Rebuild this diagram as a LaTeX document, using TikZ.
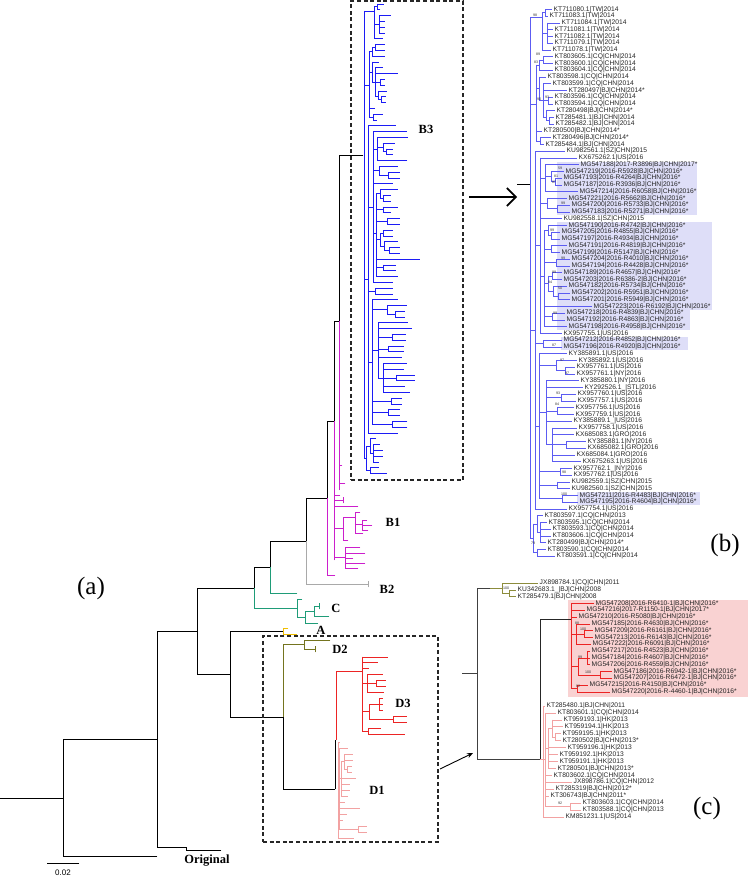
\documentclass[tikz,border=0pt]{standalone}
\usepackage{fontspec}
\setmainfont{Liberation Serif}
\newfontfamily\taxfont{Liberation Sans}
\usetikzlibrary{arrows.meta}

\definecolor{cladeB3}{HTML}{1C1CF5}
\definecolor{panelblue}{HTML}{5C5CF2}
\definecolor{lavender}{HTML}{DEDEF8}
\definecolor{cladeB1}{HTML}{CC1FCC}
\definecolor{cladeB2}{HTML}{A9A9A9}
\definecolor{cladeC}{HTML}{1F9C78}
\definecolor{cladeA}{HTML}{F0BE00}
\definecolor{cladeD2}{HTML}{74741F}
\definecolor{oliveC}{HTML}{8C8C3C}
\definecolor{cladeD3}{HTML}{EC2424}
\definecolor{cladeD1}{HTML}{F2A2A2}
\definecolor{rosebox}{HTML}{F9D2D2}

% row -> y in the zoomed panels
\newcommand{\yB}[1]{9.3+6.75*(#1)}
\newcommand{\yC}[1]{583+6.8*(#1)}
\newcommand{\yP}[1]{706+6.93*(#1)}

\tikzset{
  branch/.style={line width=0.9pt, line cap=rect},
  twig/.style={line width=0.6pt, line cap=rect},
  taxon/.style={anchor=west, inner sep=0.5pt, text=black!85,
    font=\taxfont\fontsize{6.7}{6.7}\selectfont},
  boot/.style={inner sep=0pt, text=black!80, font=\taxfont\fontsize{3.6}{3.6}\selectfont},
  clade/.style={inner sep=0pt, font=\bfseries\fontsize{12.5}{12.5}\selectfont},
  panel/.style={inner sep=0pt, font=\fontsize{25}{25}\selectfont},
  dashbox/.style={draw=black!85, line width=1.1pt, dash pattern=on 4pt off 2.6pt, inner sep=0pt},
  zoomarr/.style={-{Straight Barb[length=9pt,width=18pt]}, line width=1.6pt},
  thinarr/.style={-{Stealth[length=6pt,width=5pt]}, line width=0.9pt}
}

% panel (b): row/parent x/label x/taxon
\def\bleaves{%
0/545/553/KT711080.1|TW|2014,%
1/545/549/KT711083.1|TW|2014,%
2/547/561/KT711084.1|TW|2014,%
3/547/554/KT711081.1|TW|2014,%
4/547/554/KT711082.1|TW|2014,%
5/547/554/KT711079.1|TW|2014,%
6/542/552/KT711078.1|TW|2014,%
7/543/554/KT803605.1|CQ|CHN|2014,%
8/543/554/KT803600.1|CQ|CHN|2014,%
9/539/554/KT803604.1|CQ|CHN|2014,%
10/539/547/KT803598.1|CQ|CHN|2014,%
11/543/552/KT803599.1|CQ|CHN|2014,%
12/543/568/KT280497|BJ|CHN|2014*,%
13/548/554/KT803596.1|CQ|CHN|2014,%
14/548/554/KT803594.1|CQ|CHN|2014,%
15/546/556/KT280498|BJ|CHN|2014*,%
16/549/555/KT285481.1|BJ|CHN|2014,%
17/549/555/KT285482.1|BJ|CHN|2014,%
18/536/543/KT280500|BJ|CHN|2014*,%
19/540/552/KT280496|BJ|CHN|2014*,%
20/540/545/KT285484.1|BJ|CHN|2014,%
21/535/566/KU982561.1|SZ|CHN|2015,%
22/540/578/KX675262.1|US|2016,%
23/545/580/MG547188|2017-R3896|BJ|CHN|2017*,%
24/551/565/MG547219|2016-R5928|BJ|CHN|2016*,%
25/555/563/MG547193|2016-R4264|BJ|CHN|2016*,%
26/555/563/MG547187|2016-R3936|BJ|CHN|2016*,%
27/545/579/MG547214|2016-R6058|BJ|CHN|2016*,%
28/547/568/MG547221|2016-R5662|BJ|CHN|2016*,%
29/557/571/MG547200|2016-R5733|BJ|CHN|2016*,%
30/557/571/MG547183|2016-R5271|BJ|CHN|2016*,%
31/540/563/KU982558.1|SZ|CHN|2015,%
32/548/568/MG547190|2016-R4742|BJ|CHN|2016*,%
33/551/561/MG547205|2016-R4855|BJ|CHN|2016*,%
34/551/561/MG547197|2016-R4934|BJ|CHN|2016*,%
35/551/568/MG547191|2016-R4819|BJ|CHN|2016*,%
36/551/561/MG547199|2016-R5147|BJ|CHN|2016*,%
37/556/571/MG547204|2016-R4010|BJ|CHN|2016*,%
38/556/571/MG547194|2016-R4428|BJ|CHN|2016*,%
39/552/563/MG547189|2016-R4657|BJ|CHN|2016*,%
40/552/563/MG547203|2016-R6386-2|BJ|CHN|2016*,%
41/553/568/MG547182|2016-R5734|BJ|CHN|2016*,%
42/558/571/MG547202|2016-R5951|BJ|CHN|2016*,%
43/558/571/MG547201|2016-R5949|BJ|CHN|2016*,%
44/544/593/MG547223|2016-R6192|BJ|CHN|2016*,%
45/552/566/MG547218|2016-R4839|BJ|CHN|2016*,%
46/552/566/MG547192|2016-R4863|BJ|CHN|2016*,%
47/544/568/MG547198|2016-R4958|BJ|CHN|2016*,%
48/540/563/KX957755.1|US|2016,%
49/543/563/MG547212|2016-R4852|BJ|CHN|2016*,%
50/543/563/MG547196|2016-R4920|BJ|CHN|2016*,%
51/539/568/KY385891.1|US|2016,%
52/556/578/KY385892.1|US|2016,%
53/565/576/KX957761.1|US|2016,%
54/565/576/KX957761.1|NY|2016,%
55/546/580/KY385880.1|NY|2016,%
56/546/584/KY292526.1\_|STL|2016,%
57/561/577/KX957760.1|US|2016,%
58/561/577/KX957757.1|US|2016,%
59/557/575/KX957756.1|US|2016,%
60/557/575/KX957759.1|US|2016,%
61/546/573/KY385889.1\_|US|2016,%
62/552/578/KX957758.1|US|2016,%
63/552/575/KX685083.1|GRO|2016,%
64/566/587/KY385881.1|NY|2016,%
65/566/587/KX685082.1|GRO|2016,%
66/552/576/KX685084.1|GRO|2016,%
67/552/582/KX675263.1|US|2016,%
68/560/573/KX957762.1\_|NY|2016,%
69/560/573/KX957762.1|US|2016,%
70/557/571/KU982559.1|SZ|CHN|2015,%
71/557/571/KU982560.1|SZ|CHN|2015,%
72/562/579/MG547211|2016-R4483|BJ|CHN|2016*,%
73/562/579/MG547195|2016-R4604|BJ|CHN|2016*,%
74/535/568/KX957754.1|US|2016,%
75/537/544/KT803597.1|CQ|CHN|2013,%
76/540/548/KT803595.1|CQ|CHN|2014,%
77/540/552/KT803593.1|CQ|CHN|2014,%
78/540/552/KT803606.1|CQ|CHN|2014,%
79/540/547/KT280499|BJ|CHN|2014*,%
80/537/547/KT803590.1|CQ|CHN|2014,%
81/537/556/KT803591.1|CQ|CHN|2014}
\def\bverts{530/1.2/78.4, 542/0.5/6, 545/0/1, 547/2/5, 543/7/8, 539/7.5/9,
  536/8.25/19.5, 539/10/13.5, 543/11/16, 548/13/14, 546/15/16.5, 549/16/17,
  540/19/20, 535/21/74, 540/22/48, 545/23/27, 551/24/25.5, 555/25/26,
  547/28/29.5, 557/29/30, 544/32.75/47, 548/32/33.5, 551/33/34, 551/35/36,
  556/37/38, 548/39.5/41.75, 552/39/40, 553/41/42.5, 558/42/43, 552/45/46,
  543/49/50, 539/51/72.5, 556/52/53.5, 565/53/54, 546/55/64.5, 561/57/58,
  557/59/60, 552/62/67, 566/64/65, 560/68/69, 557/70/71, 562/72/73,
  537/75/77.5, 540/76/79, 537/80/81, 533/76.25/80.5}
\def\bstems{530/542/1.2, 542/545/0.5, 542/547/3.5, 539/543/7.5, 536/539/8.25,
  530/536/14, 536/539/11.75, 539/543/13.5, 543/548/13.5, 543/546/16,
  546/549/16.5, 536/540/19.5, 530/535/47.5, 535/540/35, 540/545/25,
  545/551/24.75, 551/555/25.5, 540/547/28.75, 547/557/29.5, 540/544/39.5,
  544/548/32.75, 548/551/33.5, 544/551/35.5, 544/556/37.5, 544/548/40.6,
  548/552/39.5, 548/553/41.75, 553/558/42.5, 544/552/45.5, 535/543/49.5,
  535/539/61.75, 539/556/52.75, 556/565/53.5, 539/546/59.75, 546/561/57.5,
  546/557/59.5, 546/552/64.5, 552/566/64.5, 539/560/68.5, 539/557/70.5,
  539/562/72.5, 533/537/76.25, 537/540/77.5, 533/537/80.5, 530/533/78.4}
\def\bboots{535/15/98, 538/54/89, 536/62/83, 539/99/90, 547/97/93, 560/168/59,
  556/176/81, 554/182/87, 563/203/99, 552/230/99, 563/258/99, 554/272/99,
  550/282/84, 560/288/50, 555/313/99, 554/345/87, 562/360/97, 567/373/97,
  558/393/93, 557/404/84, 564/472/98, 564/494/100, 533/543/79}

% panel (c)
\def\oleaves{0/502/539/JX898784.1|CQ|CHN|2011,%
1/509/517/KU342683.1\_|BJ|CHN|2008,%
2/509/517/KT285479.1|BJ|CHN|2008}
\def\rleaves{%
3/571/595/MG547208|2016-R6410-1|BJ|CHN|2016*,%
4/571/586/MG547216|2017-R1150-1|BJ|CHN|2017*,%
5/571/578/MG547210|2016-R5080|BJ|CHN|2016*,%
6/576/591/MG547185|2016-R4630|BJ|CHN|2016*,%
7/584/594/MG547209|2016-R6161|BJ|CHN|2016*,%
8/584/594/MG547213|2016-R6143|BJ|CHN|2016*,%
9/576/592/MG547222|2016-R6091|BJ|CHN|2016*,%
10/587/591/MG547217|2016-R4523|BJ|CHN|2016*,%
11/587/591/MG547184|2016-R4607|BJ|CHN|2016*,%
12/587/591/MG547206|2016-R4559|BJ|CHN|2016*,%
13/600/613/MG547186|2016-R6942-1|BJ|CHN|2016*,%
14/600/613/MG547207|2016-R6472-1|BJ|CHN|2016*,%
15/577/589/MG547215|2016-R4150|BJ|CHN|2016*,%
16/577/611/MG547220|2016-R-4460-1|BJ|CHN|2016*}
\def\rverts{571/3/15.5, 576/6/9, 584/7/8, 578/11/13.5, 587/10/12, 600/13/14, 577/15/16}
\def\rstems{571/576/7.5, 576/584/7.5, 571/578/12.25, 578/587/11, 578/600/13.5, 571/577/15.5}
\def\pleaves{%
0/543/546/KT285480.1|BJ|CHN|2011,%
1/545/557/KT803601.1|CQ|CHN|2014,%
2/552/563/KT959193.1|HK|2013,%
3/552/564/KT959194.1|HK|2013,%
4/555/562/KT959195.1|HK|2013,%
5/555/562/KT280502|BJ|CHN|2013*,%
6/548/567/KT959196.1|HK|2013,%
7/548/559/KT959192.1|HK|2013,%
8/548/559/KT959191.1|HK|2013,%
9/548/557/KT280501|BJ|CHN|2013*,%
10/545/553/KT803602.1|CQ|CHN|2014,%
11/545/573/JX898786.1|CQ|CHN|2012,%
12/545/555/KT285319|BJ|CHN|2012*,%
13/545/550/KT306743|BJ|CHN|2011*,%
14/570/582/KT803603.1|CQ|CHN|2014,%
15/570/582/KT803588.1|CQ|CHN|2013,%
16/543/565/KM851231.1|US|2014}
\def\pverts{543/0/16, 545/1/14.5, 548/3.25/9, 552/2/4.5, 555/4/5, 570/14/15}
\def\pstems{543/545/7.75, 545/548/6.1, 548/552/3.25, 552/555/4.5, 545/570/14.5}
\def\cboots{506/588/100, 577/623/88, 583/629/100, 580/657/99, 588/672/100, 578/686/82, 560/803/92}

% #1: style of the branches; one path per list
\newcommand{\drawBtree}[1]{%
  \draw[#1] \foreach \vx/\vfrom/\vto in \bverts {(\vx,{\yB{\vfrom}}) -- (\vx,{\yB{\vto}})};
  \draw[#1] \foreach \hfrom/\hto/\hrow in \bstems {(\hfrom,{\yB{\hrow}}) -- (\hto,{\yB{\hrow}})};
  \draw[#1] \foreach \rw/\px/\lx/\txt in \bleaves {(\px,{\yB{\rw}}) -- ({\lx-1.2},{\yB{\rw}})};
}
\newcommand{\drawRtree}[1]{%
  \draw[#1] \foreach \vx/\vfrom/\vto in \rverts {(\vx,{\yC{\vfrom}}) -- (\vx,{\yC{\vto}})};
  \draw[#1] \foreach \hfrom/\hto/\hrow in \rstems {(\hfrom,{\yC{\hrow}}) -- (\hto,{\yC{\hrow}})};
  \draw[#1] \foreach \rw/\px/\lx/\txt in \rleaves {(\px,{\yC{\rw}}) -- ({\lx-1.2},{\yC{\rw}})};
}
\newcommand{\drawPtree}[1]{%
  \draw[#1] \foreach \vx/\vfrom/\vto in \pverts {(\vx,{\yP{\vfrom}}) -- (\vx,{\yP{\vto}})};
  \draw[#1] \foreach \hfrom/\hto/\hrow in \pstems {(\hfrom,{\yP{\hrow}}) -- (\hto,{\yP{\hrow}})};
  \draw[#1] \foreach \rw/\px/\lx/\txt in \pleaves {(\px,{\yP{\rw}}) -- ({\lx-1.2},{\yP{\rw}})};
}

\begin{document}
\begin{tikzpicture}[x=1pt,y=-1pt]
\useasboundingbox (0,0) rectangle (748,878);

% shaded taxa
\fill[lavender] (557,{\yB{22.6}}) rectangle (697,{\yB{30.5}});
\fill[lavender] (557,{\yB{31.5}}) rectangle (712,{\yB{44.5}});
\fill[lavender] (557,{\yB{44.5}}) rectangle (690,{\yB{47.5}});
\fill[lavender] (561,{\yB{48.5}}) rectangle (688,{\yB{50.5}});
\fill[lavender] (577,{\yB{71.5}}) rectangle (700,{\yB{73.5}});
\fill[rosebox] (568,600) rectangle (748,697);

% (a) backbone
\foreach \xa/\ya/\xz/\yz in {0/798/63/798, 63/739/63/856, 63/856/157/856,
    63/739/157/739, 157/631/157/847, 157/847/186/847, 186/847/186/850,
    186/850/221/850, 157/631/197/631, 197/588/197/674, 197/588/254/588,
    254/567/254/588, 254/567/270/567, 270/541/270/567, 270/541/306/541,
    306/498/306/541, 306/498/327/498, 327/421/327/498, 327/421/334/421,
    334/321/334/421, 334/321/339/321, 339/155/339/321, 339/155/363/155,
    197/674/230/674, 230/631/230/717, 230/631/283/631, 230/717/283/717,
    283/717/283/789, 283/789/335/789, 335/740/335/789}
  \draw[branch] (\xa,\ya) -- (\xz,\yz);
\foreach \xa/\ya/\xz/\yz in {270/567/270/593, 270/593/297/593, 254/588/254/608,
    254/608/297/608, 297/599/297/617, 297/599/302/599, 297/617/305/617,
    305/611/305/623, 305/611/314/611, 305/623/318/623, 314/606/314/616,
    314/606/319/606, 319/603/319/609, 314/616/329/616}
  \draw[branch, cladeC] (\xa,\ya) -- (\xz,\yz);
\foreach \xa/\ya/\xz/\yz in {283/628/283/634, 283/628/288/628, 283/634/297/634}
  \draw[branch, cladeA] (\xa,\ya) -- (\xz,\yz);
\foreach \xa/\ya/\xz/\yz in {283/644/283/717, 283/644/304/644, 304/640/304/649,
    304/640/330/640, 304/649/315/649, 315/646/315/652}
  \draw[branch, cladeD2] (\xa,\ya) -- (\xz,\yz);
\foreach \xa/\ya/\xz/\yz in {306/541/306/584, 306/584/368/584, 368/581/368/587}
  \draw[branch, cladeB2] (\xa,\ya) -- (\xz,\yz);
\foreach \xa/\ya/\xz/\yz in {339/321/339/490, 339/465/342/465, 339/483/345/483,
    334/421/334/560, 334/495/340/495, 334/500/343/500, 343/497/343/503,
    334/506/358/506, 334/528/343/528, 343/517/343/540, 343/517/355/517,
    355/512/355/533, 355/512/360/512, 355/533/363/533, 355/524/362/524,
    362/520/362/530, 362/520/367/520, 362/525/372/525, 362/530/368/530,
    343/540/348/540, 334/557/345/557, 345/547/345/568, 345/547/360/547,
    345/553/365/553, 345/558/353/558, 345/563/365/563, 345/568/358/568,
    327/498/327/575, 327/575/335/575}
  \draw[branch, cladeB1] (\xa,\ya) -- (\xz,\yz);
\draw[branch, cladeD3] (336,740) -- (336,671) -- (362,671);

% B3, D3, D1 of (a) follow the zoomed trees
\begin{scope}[shift={(-113,-4)}, xscale=0.9, yscale=0.859]
  \drawBtree{branch, line width=0.8pt, draw=cladeB3}
\end{scope}
\begin{scope}[shift={(-266.1,131.4)}, xscale=1.1, yscale=0.871]
  \drawRtree{branch, draw=cladeD3}
\end{scope}
\begin{scope}[shift={(-69.25,130.6)}, xscale=0.75, yscale=0.866]
  \drawPtree{branch, draw=cladeD1}
\end{scope}

% (b)
\draw[branch, line width=1.2pt] (518,{\yB{25.9}}) -- (530,{\yB{25.9}});
\drawBtree{twig, draw=panelblue}
\foreach \rw/\px/\lx/\txt in \bleaves
  \node[taxon] (tb\rw) at (\lx,{\yB{\rw}}) {\txt};
\foreach \x/\y/\v [count=\i] in \bboots
  \node[boot] (bb\i) at (\x,\y) {\v};

% (c)
\draw[twig, black!75] (462,673) -- (477,673);
\draw[twig, black!75] (490,{\yC{0.75}}) -- (477,{\yC{0.75}}) -- (477,759) -- (540,759);
\draw[branch, black!85] (540,759) -- (540,619) -- (571,619);
\draw[twig, oliveC] (490,{\yC{0.75}}) -- (502,{\yC{0.75}});
\draw[twig, oliveC] (502,{\yC{0}}) -- (502,{\yC{1.5}}) (502,{\yC{1.5}}) -- (509,{\yC{1.5}})
  (509,{\yC{1}}) -- (509,{\yC{2}});
\foreach \rw/\px/\lx/\txt in \oleaves
  \draw[twig, oliveC] (\px,{\yC{\rw}}) -- ({\lx-1.2},{\yC{\rw}});
\drawRtree{twig, draw=cladeD3}
\draw[twig, cladeD1] (540,759) -- (543,759);
\drawPtree{twig, draw=cladeD1}
\foreach \rw/\px/\lx/\txt in \oleaves
  \node[taxon] (to\rw) at (\lx,{\yC{\rw}}) {\txt};
\foreach \rw/\px/\lx/\txt in \rleaves
  \node[taxon] (tr\rw) at (\lx,{\yC{\rw}}) {\txt};
\foreach \rw/\px/\lx/\txt in \pleaves
  \node[taxon] (tp\rw) at (\lx,{\yP{\rw}}) {\txt};
\foreach \x/\y/\v [count=\i] in \cboots
  \node[boot] (cb\i) at (\x,\y) {\v};

% zoom boxes and arrows
\node[dashbox, minimum width=112pt, minimum height=479pt] (boxB3) at (407,240.5) {};
\node[dashbox, minimum width=175pt, minimum height=206pt] (boxD) at (350.5,739) {};
\coordinate (zoomB) at (469,197);
\coordinate (panelB) at (517,197);
\draw[zoomarr] (zoomB) -- (panelB);
\coordinate (zoomD) at (440,769);
\coordinate (panelC) at (473,753);
\draw[thinarr] (zoomD) -- (panelC);

% labels
\node[clade] (lB3) at (426,129) {B3};
\node[clade] (lB1) at (393,522) {B1};
\node[clade] (lB2) at (387,589) {B2};
\node[clade] (lC) at (336,608) {C};
\node[clade] (lA) at (321,630) {A};
\node[clade] (lD2) at (340,649) {D2};
\node[clade] (lD3) at (403,703) {D3};
\node[clade] (lD1) at (377,790) {D1};
\node[clade] (lOrig) at (207,861) {Original};
\node[panel] (pa) at (91,588) {(a)};
\node[panel] (pb) at (725,545) {(b)};
\node[panel] (pc) at (707,808) {(c)};

% scale bar
\coordinate (sb0) at (47,863);
\coordinate (sb1) at (79,863);
\draw[branch] (sb0) -- (sb1);
\node[inner sep=0pt, font=\taxfont\fontsize{8}{8}\selectfont] (sbl) at (63,873) {0.02};
\end{tikzpicture}
\end{document}
